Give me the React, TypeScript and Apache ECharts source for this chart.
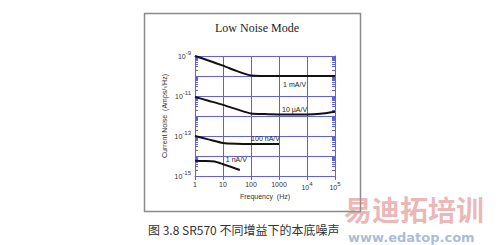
import React, { useEffect, useRef } from "react";
import * as echarts from "echarts";

const freqMA = [1, 3, 10, 30, 70, 100, 200, 1000, 10000, 100000];
const noiseMA = [1e-9, 6e-10, 3.3e-10, 1.8e-10, 1.2e-10, 1.05e-10, 1.0e-10, 1.0e-10, 1.0e-10, 1.0e-10];

const freqUA = [1, 3, 10, 30, 100, 300, 1000, 10000, 30000, 100000];
const noiseUA = [9e-12, 5.8e-12, 3.6e-12, 2.2e-12, 1.35e-12, 1.25e-12, 1.2e-12, 1.2e-12, 1.3e-12, 1.65e-12];

const freqNA100 = [1, 3, 10, 30, 100, 1000];
const noiseNA100 = [1.0e-13, 6.8e-14, 4.5e-14, 4.1e-14, 4.0e-14, 4.0e-14];

const freqNA1 = [1, 2, 5, 10, 20, 40];
const noiseNA1 = [5.8e-15, 5.6e-15, 5.3e-15, 3.9e-15, 2.8e-15, 2.0e-15];

const seriesNames = ["1 mA/V", "10 µA/V", "100 nA/V", "1 nA/V"];
const labelCoords: [number, number][] = [[3600, 1e-10], [3600, 1.2e-12], [330, 4e-14], [30, 2.4e-15]];
const labelOffsets: [number, number][] = [[0, 8], [0, -5], [0, -5], [0, -9]];

const xTickLabels: Record<number, string> = { 0: "1", 1: "10", 2: "100", 3: "1000", 4: "10{sup|4}", 5: "10{sup|5}" };
const yTickExps = [-9, -11, -13, -15];

const title = "Low Noise Mode";
const yName = "Current Noise  (Amps/√Hz)";
const xName = "Frequency  (Hz)";
const caption = "图 3.8 SR570 不同增益下的本底噪声";

const blue = "#6262d8";

export default function App() {
  const ref = useRef<HTMLDivElement>(null);
  useEffect(() => {
    if (!ref.current) return;
    const chart = echarts.init(ref.current, undefined, { renderer: "svg" });
    const sets = [
      [freqMA, noiseMA],
      [freqUA, noiseUA],
      [freqNA100, noiseNA100],
      [freqNA1, noiseNA1],
    ];
    const expOf = (v: number) => Math.round(Math.log10(v));
    const supRich = { sup: { fontSize: 6, color: "#333", verticalAlign: "top", padding: [0, 0, 6, 0] } };
    chart.setOption({
      animation: false,
      backgroundColor: "#fff",
      grid: { left: 195, right: 165, top: 56, bottom: 69 },
      xAxis: [
        {
          type: "log",
          logBase: 10,
          min: 1,
          max: 100000,
          axisLine: { show: true, lineStyle: { color: blue, width: 1 } },
          axisTick: { show: true, inside: false, length: 4, lineStyle: { color: blue } },
          splitLine: { show: true, lineStyle: { color: blue, width: 1, type: "solid" } },
          axisLabel: {
            fontFamily: "Liberation Sans",
            fontSize: 7,
            color: "#333",
            margin: 5,
            formatter: (v: number) => xTickLabels[expOf(v)] ?? "",
            rich: supRich,
          },
          name: xName,
          nameLocation: "middle",
          nameGap: 17,
          nameTextStyle: { fontFamily: "Liberation Sans", fontSize: 7, color: "#333" },
        },
        {
          type: "log",
          logBase: 10,
          min: 1,
          max: 100000,
          position: "top",
          axisLine: { show: true, lineStyle: { color: blue } },
          axisTick: { show: true, inside: true, length: 4, lineStyle: { color: blue } },
          axisLabel: { show: false },
          splitLine: { show: false },
        },
      ],
      yAxis: [
        {
          type: "log",
          logBase: 10,
          min: 1e-15,
          max: 1e-9,
          axisLine: { show: true, lineStyle: { color: blue } },
          axisTick: { show: true, inside: true, length: 4, lineStyle: { color: blue } },
          minorTick: { show: true, splitNumber: 9, length: 3, lineStyle: { color: blue } },
          splitLine: { show: true, lineStyle: { color: blue, width: 1, type: "solid" } },
          axisLabel: {
            fontFamily: "Liberation Sans",
            fontSize: 7,
            color: "#333",
            margin: 4,
            formatter: (v: number) => {
              const e = expOf(v);
              return yTickExps.includes(e) ? `10{sup|${e}}` : "";
            },
            rich: supRich,
          },
          name: yName,
          nameLocation: "middle",
          nameGap: 27,
          nameTextStyle: { fontFamily: "Liberation Sans", fontSize: 7, color: "#333" },
        },
        {
          type: "log",
          logBase: 10,
          min: 1e-15,
          max: 1e-9,
          position: "right",
          axisLine: { show: true, lineStyle: { color: blue } },
          axisTick: { show: true, inside: true, length: 4, lineStyle: { color: blue } },
          minorTick: { show: true, splitNumber: 9, length: 3, lineStyle: { color: blue } },
          axisLabel: { show: false },
          splitLine: { show: false },
        },
      ],
      title: {
        text: title,
        left: 252,
        textAlign: "center",
        top: 17,
        textStyle: { fontFamily: "Liberation Serif", fontSize: 12, fontWeight: "normal", color: "#222" },
      },
      series: sets.map(([fx, vy], i) => ({
        type: "line",
        name: seriesNames[i],
        data: fx.map((f, j) => [f, vy[j]]),
        smooth: 0.2,
        symbol: "none",
        z: 5,
        lineStyle: { color: "#111", width: 2 },
        markPoint: {
          symbol: "circle",
          symbolSize: 0,
          data: [
            {
              coord: labelCoords[i],
              label: {
                show: true,
                formatter: seriesNames[i],
                position: "inside",
                offset: labelOffsets[i],
                fontFamily: "Liberation Sans",
                fontSize: 7,
                color: "#222",
              },
            },
          ],
        },
      })),
      graphic: [
        {
          type: "rect",
          silent: true,
          shape: { x: 144.5, y: 13.5, width: 216, height: 198 },
          style: { fill: "transparent", stroke: "#8a8a8a", lineWidth: 1.5 },
        },
        {
          type: "text",
          x: 148,
          y: 223,
          style: { text: caption, font: '12px "Noto Sans CJK SC"', fill: "#333" },
        },
        {
          type: "text",
          x: 344,
          y: 195,
          style: { text: "易迪拓培训", font: 'bold 28px "Noto Sans CJK SC"', fill: "rgba(220,120,120,0.55)" },
        },
        {
          type: "text",
          x: 348,
          y: 231,
          style: { text: "www.edatop.com", font: 'bold 13px "DejaVu Sans"', fill: "rgba(130,160,200,0.7)" },
        },
      ],
    });
    return () => chart.dispose();
  }, []);
  return <div ref={ref} style={{ position: "fixed", left: 0, top: 0, width: 500, height: 245 }} />;
}
